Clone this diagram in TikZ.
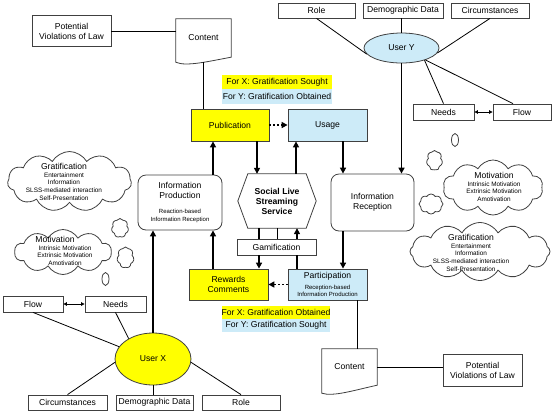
\documentclass[tikz,border=0pt]{standalone}
\usepackage{fontspec}
\setmainfont{Liberation Sans}
\usetikzlibrary{shapes.geometric,shapes.symbols,arrows.meta}
\definecolor{yel}{HTML}{FFFF00}
\definecolor{lblue}{HTML}{CDEBF8}
\definecolor{bord}{HTML}{404040}
\newcommand\mainfs{\fontsize{8.6}{10}\selectfont}
\newcommand\smallfs{\fontsize{6}{7.6}\selectfont}
\newcommand\cloudfs{\fontsize{6.4}{7.6}\selectfont}
\tikzset{
 box/.style={draw=bord, line width=0.8pt, rectangle, inner sep=1pt, align=center, font=\mainfs},
 ybox/.style={box, fill=yel},
 bbox/.style={box, fill=lblue},
 rbox/.style={box, rounded corners=8pt},
 plain/.style={inner sep=0pt, align=center, font=\mainfs},
 hl/.style={rectangle, inner sep=0pt, font=\mainfs},
 arr/.style={line width=1.7pt, -{Triangle[length=6pt,width=6pt]}},
 darr/.style={line width=1.6pt, dash pattern=on 2pt off 2pt, -{Triangle[length=6pt,width=6pt]}},
 conn/.style={line width=0.8pt},
 boldline/.style={line width=1.7pt},
 dbl/.style={line width=0.8pt, {Triangle[length=3.5pt,width=3.5pt]}-{Triangle[length=3.5pt,width=3.5pt]}},
 usr/.style={ellipse, draw=bord, line width=0.8pt, inner sep=0pt, font=\mainfs},
 outline/.style={draw=bord, line width=0.8pt},
 cl/.style={cloud, draw=bord, line width=0.8pt, cloud ignores aspect, inner sep=0pt, cloud puff arc=120},
 bubble/.style={ellipse, draw=bord, line width=0.8pt, inner sep=0pt},
 cltxt/.style={align=center, inner sep=0pt, font=\cloudfs},
}
\begin{document}
\begin{tikzpicture}[x=1pt,y=-1pt]
\useasboundingbox (0,0) rectangle (553,413);

% ---------- top left
\node[box, minimum width=79, minimum height=31] (violA) at (71.5,31) {Potential\\Violations of Law};
\node[plain, minimum width=55, minimum height=38] (contA) at (203.5,38) {Content};
\draw[outline] (contA.south east) -- (contA.north east) -- (contA.north west) -- (contA.south west) -- ++(0,5) .. controls (186,67) and (210,61) .. (contA.south east) -- cycle;

% ---------- top centre
\node[ybox, minimum width=78, minimum height=32] (pub) at (230,125) {Publication};
\node[bbox, minimum width=79, minimum height=32] (usage) at (327.5,125) {Usage};
\node[hl, fill=yel, minimum width=110, minimum height=14.5] (hxa) at (277,82) {For X:\ Gratification Sought};
\node[hl, fill=lblue, minimum width=110, minimum height=14.5] (hya) at (277,96.5) {For Y:\ Gratification Obtained};

% ---------- user Y
\node[usr, fill=lblue, minimum width=75, minimum height=30] (userY) at (401.5,48) {User Y};
\node[box, minimum width=77, minimum height=15] (roleY) at (316.5,10.5) {Role};
\node[box, minimum width=80, minimum height=15] (demoY) at (403,10.5) {Demographic Data};
\node[box, minimum width=78, minimum height=15] (circY) at (490,10.5) {Circumstances};
\node[box, minimum width=61, minimum height=16] (needsY) at (443.5,112) {Needs};
\node[box, minimum width=58, minimum height=16] (flowY) at (522,112) {Flow};

% ---------- middle
\node[rbox, minimum width=84, minimum height=55] (iprod) at (180,202.5) {Information\\Production\\[5pt]{\smallfs Reaction-based}\\[-1.7pt]{\smallfs Information Reception}};
\node[plain, font=\mainfs\bfseries, minimum width=78, minimum height=54] (sls) at (277,201) {Social Live\\Streaming\\Service};
\draw[outline] (sls.west) -- ([xshift=10pt]sls.north west) -- ([xshift=-10pt]sls.north east) -- (sls.east) -- ([xshift=-10pt]sls.south east) -- ([xshift=10pt]sls.south west) -- cycle;
\node[rbox, minimum width=83, minimum height=57] (irec) at (372.5,202.5) {Information\\Reception};
\node[box, minimum width=79, minimum height=16] (gam) at (276.5,247) {Gamification};
\node[ybox, minimum width=79, minimum height=31] (rew) at (228.5,284.5) {Rewards\\Comments};
\node[bbox, minimum width=79, minimum height=31] (part) at (327.5,284.5) {Participation\\[1pt]{\smallfs Reception-based}\\[-2.5pt]{\smallfs Information Production}};
\node[hl, fill=yel, minimum width=108, minimum height=13] (hxb) at (276,312.5) {For X:\ Gratification Obtained};
\node[hl, fill=lblue, minimum width=108, minimum height=13] (hyb) at (276,325.5) {For Y:\ Gratification Sought};

% ---------- bottom right
\node[plain, minimum width=55, minimum height=36] (contB) at (349.5,367) {Content};
\draw[outline] (contB.south east) -- (contB.north east) -- (contB.north west) -- (contB.south west) -- ++(0,8) .. controls (333,397) and (355,390) .. (contB.south east) -- cycle;
\node[box, minimum width=79, minimum height=32] (violB) at (482.5,370) {Potential\\Violations of Law};

% ---------- user X
\node[box, minimum width=60, minimum height=16] (flowX) at (33,304) {Flow};
\node[box, minimum width=61, minimum height=16] (needsX) at (115.5,304) {Needs};
\node[usr, fill=yel, minimum width=76, minimum height=52] (userX) at (153,359) {User X};
\node[box, minimum width=79, minimum height=15] (circX) at (67.5,402.5) {Circumstances};
\node[box, minimum width=77, minimum height=15] (demoX) at (154.5,402.5) {Demographic Data};
\node[box, minimum width=78, minimum height=15] (roleX) at (241,402.5) {Role};

% ---------- clouds
\node[cl, cloud puffs=11, minimum width=124, minimum height=60] (gratL) at (69.5,181.5) {};
\node[plain] (gratLh) at (64,166) {Gratification};
\node[cltxt] (gratLi) at (64,186.5) {Entertainment\\Information\\SLSS-mediated interaction\\Self-Presentation};
\node[cl, cloud puffs=10, minimum width=97, minimum height=45] (motL) at (63,252) {};
\node[plain] (motLh) at (55,239.5) {Motivation};
\node[cltxt] (motLi) at (65,255.5) {Intrinsic Motivation\\Extrinsic Motivation\\Amotivation};
\node[cl, cloud puffs=10, minimum width=100, minimum height=55] (motR) at (493,187.5) {};
\node[plain] (motRh) at (494,175) {Motivation};
\node[cltxt] (motRi) at (494,191.5) {Intrinsic Motivation\\Extrinsic Motivation\\Amotivation};
\node[cl, cloud puffs=12, minimum width=140, minimum height=58] (gratR) at (480,251.5) {};
\node[plain] (gratRh) at (471,237.5) {Gratification};
\node[cltxt] (gratRi) at (471,257.5) {Entertainment\\Information\\SLSS-mediated interaction\\Self-Presentation};

\node[cl, cloud puffs=7, minimum width=17, minimum height=19] (bl1) at (120,228) {};
\node[cl, cloud puffs=7, minimum width=17, minimum height=21] (bl2) at (125.5,257.5) {};
\node[bubble, minimum width=7, minimum height=13] (bl3) at (105.5,279) {};
\node[cl, cloud puffs=7, minimum width=16, minimum height=20] (br1) at (434.5,160.5) {};
\node[cl, cloud puffs=8, minimum width=24, minimum height=20] (br2) at (431,204) {};
\node[bubble, minimum width=7, minimum height=13] (br3) at (455,140) {};

% ---------- connectors
\draw[conn] (violA.east) -- (contA.west |- violA.east);
\draw[conn] ([yshift=-5pt]contA.south) -- (contA.south |- pub.north);
\draw[darr] (pub) -- (usage);
\draw[arr] (213,0 |- iprod.north) -- (213,0 |- pub.south);
\draw[arr] (257,0 |- pub.south) -- (257,0 |- sls.north);
\draw[arr] (296,0 |- sls.north) -- (296,0 |- usage.south);
\draw[arr] (343,0 |- usage.south) -- (343,0 |- irec.north);
\draw[arr] (userY.south) -- (userY.south |- irec.north);
\draw[arr] (343,0 |- irec.south) -- (343,0 |- part.north);
\draw[arr] (213,0 |- rew.north) -- (213,0 |- iprod.south);
\draw[arr] (userX.north) -- (userX.north |- iprod.south);
\draw[boldline] (259,0 |- sls.south) -- (259,0 |- gam.north);
\draw[arr] (259,0 |- gam.south) -- (259,0 |- rew.north);
\draw[conn] (sls.south) -- (sls.south |- gam.north);
\draw[boldline] (297,0 |- part.north) -- (297,0 |- gam.south);
\draw[arr] (297,0 |- gam.north) -- (297,0 |- sls.south);
\draw[darr] (part) -- (rew);
\draw[conn] (357,0 |- part.south) -- (357,0 |- contB.north);
\draw[conn] (contB.east) -- (violB.west |- contB.east);

\draw[conn] (roleY.south) -- (userY.190);
\draw[conn] (userY.north |- demoY.south) -- (userY.north);
\draw[conn] (circY.south) -- (userY.-8);
\draw[conn] (userY.-28) -- (needsY.north);
\draw[conn] (userY) -- ([xshift=-9pt]flowY.north);
\draw[dbl] (needsY) -- (flowY);

\draw[conn] (flowX.south) -- (userX.160);
\draw[conn] (needsX.south) -- (userX.140);
\draw[conn] (circX.north) -- (userX.185);
\draw[conn] (userX.south) -- (userX.south |- demoX.north);
\draw[conn] (userX.-5) -- (roleX.north);
\draw[dbl] (flowX) -- (needsX);
\end{tikzpicture}
\end{document}
